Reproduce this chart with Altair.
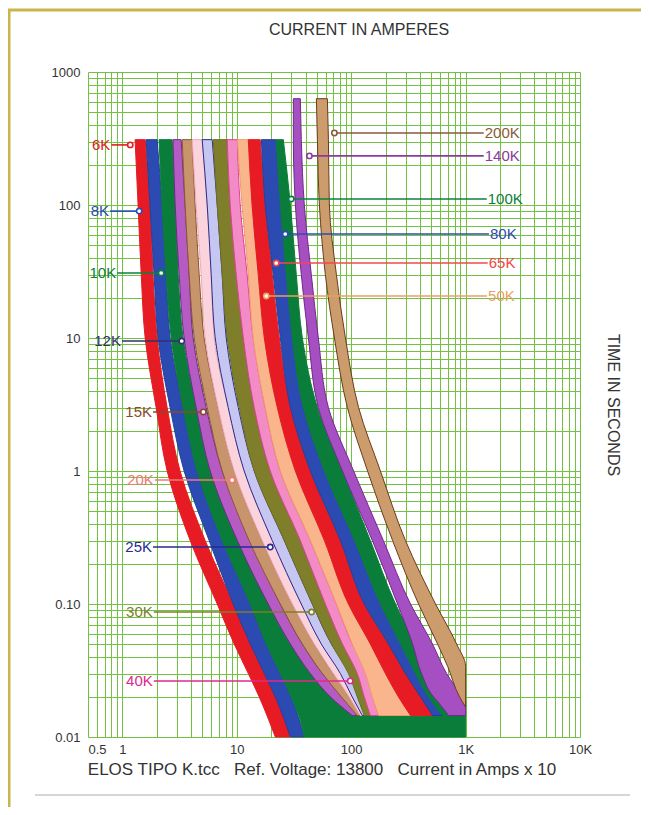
import altair as alt
import pandas as pd

FONT = "Liberation Sans"
TXT = "#333333"

# ---------------- fuse bands: current (A x10) at each time (s) ----------------
T_STD = [310, 100, 30, 10, 3, 1, 0.3, 0.1, 0.05, 0.03, 0.02, 0.0145]
T_LOW = [310, 100, 30, 10, 3, 1, 0.3, 0.1, 0.05, 0.03, 0.02, 0.01]

K6_MIN = [1.29, 1.37, 1.46, 1.58, 1.97, 2.46, 3.91, 6.74, 9.49, 12.6, 15.7, 21.7]
K6_MAX = [1.58, 1.74, 1.85, 2.01, 2.46, 3.19, 5.29, 9.30, 13.1, 17.4, 21.7, 29.4]

K8_MIN = [1.61, 1.74, 1.89, 2.05, 2.61, 3.46, 5.73, 9.30, 13.1, 17.4, 21.7, 29.4]
K8_MAX = [2.01, 2.22, 2.41, 2.61, 3.39, 4.50, 7.45, 13.1, 18.1, 24.0, 29.9, 38.9]

K10_T = [310, 100, 30, 10, 3, 1, 0.3, 0.1, 0.05, 0.03, 0.02, 0.0155, 0.0145, 0.01]
K10_MIN = [2.09, 2.22, 2.41, 2.67, 3.39, 4.50, 7.45, 13.1, 18.1, 24.0, 29.9, 33.8, 34.8, 38.9]
K10_MAX = [2.72, 2.89, 3.07, 3.39, 4.41, 5.85, 10.5, 18.8, 29.4, 45.7, 72.7, 94.5, 1000, 1000]

K12_MIN = [2.77, 2.89, 3.13, 3.46, 4.41, 5.85, 10.1, 18.8, 29.4, 43.9, 65.8, 102]
K12_MAX = [3.26, 3.53, 3.83, 4.15, 5.40, 7.45, 13.1, 24.0, 37.4, 56.0, 83.8, 116]

K15_MIN = [3.33, 3.53, 3.83, 4.24, 5.51, 7.45, 12.8, 24.0, 37.4, 56.0, 82.1, 113]
K15_MAX = [4.07, 4.32, 4.69, 5.18, 6.87, 9.49, 16.7, 30.6, 47.6, 69.9, 98.4, 128]

K20_MIN = [4.07, 4.41, 4.88, 5.29, 6.87, 9.49, 16.7, 30.6, 47.6, 69.9, 96.4, 120]
K20_MAX = [4.98, 5.51, 5.97, 6.34, 8.41, 11.6, 20.4, 36.6, 56.0, 82.1, 109, 136]

K25_MIN = [4.98, 5.51, 5.97, 6.47, 8.41, 11.6, 20.4, 36.6, 54.8, 80.4, 102, 125]
K25_MAX = [6.09, 6.74, 7.45, 8.08, 10.3, 14.2, 26.0, 45.7, 67.1, 98.4, 120, 147]

K30_MIN = [6.21, 6.74, 7.45, 8.24, 10.5, 14.2, 26.0, 45.7, 67.1, 94.5, 113, 130]
K30_MAX = [8.24, 8.75, 10.1, 11.4, 14.2, 19.6, 35.9, 59.4, 83.8, 116, 136, 153]

K40_MIN = [8.24, 8.75, 9.88, 11.4, 14.2, 19.6, 35.9, 59.4, 83.8, 113, 130, 147]
K40_MAX = [10.1, 10.7, 12.3, 13.9, 17.7, 24.0, 43.9, 74.2, 102, 139, 156, 173]

K50_MIN = [10.1, 11.1, 12.6, 13.9, 17.7, 24.0, 43.9, 74.2, 102, 133, 153, 173]
K50_MAX = [12.6, 13.6, 15.4, 17.4, 22.6, 32.5, 58.3, 98.4, 153, 230, 330, 474]

K65_MIN = [12.6, 13.6, 15.4, 17.4, 22.6, 32.5, 58.3, 94.5, 147, 199, 259, 330]
K65_MAX = [16.0, 17.7, 20.4, 23.5, 29.4, 43.9, 80.4, 130, 212, 317, 446, 629]

K80_MIN = [16.4, 17.7, 20.8, 24.0, 29.4, 43.9, 80.4, 130, 212, 298, 404, 514]
K80_MAX = [22.1, 24.0, 27.6, 31.2, 38.1, 58.3, 107, 180, 281, 404, 569, 769]

K100_MIN = [22.1, 24.0, 27.1, 30.6, 38.1, 58.3, 107, 180, 270, 365, 474, 629]
K100_MAX = [25.5, 29.4, 33.1, 37.4, 50.6, 83.8, 147, 244, 365, 494, 668, 941]

K140_T = [630, 310, 100, 30, 10, 3, 1, 0.3, 0.1, 0.05, 0.03, 0.02, 0.0185, 0.0145]
K140_MIN = [31.2, 31.2, 32.5, 36.6, 42.2, 51.6, 83.8, 153, 254, 344, 412, 525, 569, 710]
K140_MAX = [35.9, 36.6, 38.9, 44.8, 51.6, 63.2, 105, 191, 330, 514, 682, 941, 1000, 1000]

K200_T = [630, 310, 100, 30, 10, 3, 1, 0.3, 0.1, 0.05, 0.034, 0.02, 0.0168]
K200_MIN = [49.6, 50.6, 52.7, 59.4, 71.3, 92.6, 139, 230, 388, 569, 696, 886, 1000]
K200_MAX = [61.9, 63.2, 64.4, 74.2, 89.0, 116, 180, 298, 546, 834, 1000, 1000, 1000]

BANDS = [
    ("6K", T_LOW, K6_MIN, K6_MAX, "#e61b23", "#e61b23"),
    ("8K", T_LOW, K8_MIN, K8_MAX, "#2b4bb3", "#24409c"),
    ("10K", K10_T, K10_MIN, K10_MAX, "#0a7d3b", "#0a7d3b"),
    ("12K", T_STD, K12_MIN, K12_MAX, "#b65ac4", "#6b2c86"),
    ("15K", T_STD, K15_MIN, K15_MAX, "#c8946c", "#8a5634"),
    ("20K", T_STD, K20_MIN, K20_MAX, "#fbd3dc", "#f3a9bd"),
    ("25K", T_STD, K25_MIN, K25_MAX, "#c6c6f2", "#2b2b86"),
    ("30K", T_STD, K30_MIN, K30_MAX, "#7f7f2b", "#6e6e22"),
    ("40K", T_STD, K40_MIN, K40_MAX, "#f38cc6", "#e0409a"),
    ("50K", T_STD, K50_MIN, K50_MAX, "#f9b58c", "#f09a68"),
    ("65K", T_STD, K65_MIN, K65_MAX, "#e61b23", "#e61b23"),
    ("80K", T_STD, K80_MIN, K80_MAX, "#2b4bb3", "#24409c"),
    ("100K", T_STD, K100_MIN, K100_MAX, "#0a7d3b", "#0a7d3b"),
    ("140K", K140_T, K140_MIN, K140_MAX, "#a64fc2", "#6f2a8c"),
    ("200K", K200_T, K200_MIN, K200_MAX, "#cd9c6c", "#6a3b1c"),
]

# ---------------- labels with leader lines ----------------
LEFT_NAMES = ["6K", "8K", "10K", "12K", "15K", "20K", "25K", "30K", "40K"]
LEFT_T = [283, 90, 30.8, 9.49, 2.78, 0.855, 0.268, 0.0871, 0.0264]
LEFT_X0 = [0.80, 0.78, 0.90, 0.99, 1.85, 1.92, 1.85, 1.88, 1.88]
LEFT_X1 = [1.17, 1.40, 2.18, 3.30, 5.10, 9.10, 19.6, 45.0, 98.0]
LEFT_COLORS = ["#e61b23", "#2b4bb3", "#0a8040", "#35306e", "#8a4a2a",
               "#f07878", "#2a2a90", "#7e7e2c", "#e0288c"]

RIGHT_NAMES = ["200K", "140K", "100K", "80K", "65K", "50K"]
RIGHT_T = [348, 234, 111, 60.5, 36.6, 20.7]
RIGHT_X0 = [71.3, 43.1, 29.9, 26.5, 22.1, 18.1]
RIGHT_X1 = [1440, 1440, 1530, 1600, 1560, 1540]
RIGHT_COLORS = ["#8a5a3a", "#8a3aa0", "#0a8040", "#2b4bb3", "#f04848", "#e8a060"]

# ---------------- axes ----------------
X_LABEL_VALUES = [0.5, 1, 10, 100, 1000, 10000]
X_LABEL_TEXT = ["0.5", "1", "10", "100", "1K", "10K"]
Y_LABEL_VALUES = [0.01, 0.1, 1, 10, 100, 1000]
Y_LABEL_TEXT = ["0.01", "0.10", "1", "10", "100", "1000"]

X_GRID = [0.5, 0.6, 0.7, 0.8, 0.9] + [round(k * 10 ** e, 6) for e in range(0, 4) for k in range(1, 10)] + [10000]
Y_GRID = [round(k * 10.0 ** e, 6) for e in range(-2, 3) for k in range(1, 10)] + [1000]

TITLE_TOP = "CURRENT IN AMPERES"
TITLE_RIGHT = "TIME IN SECONDS"
TITLE_BOTTOM = "ELOS TIPO K.tcc\u00a0\u00a0\u00a0Ref. Voltage: 13800\u00a0\u00a0\u00a0Current in Amps x 10"


def label_expr(values, texts):
    return " : ".join(f"datum.value == {v} ? '{t}'" for v, t in zip(values, texts)) + " : ''"


GRID_COLOR = "#72c142"
x_scale = alt.Scale(type="log", domain=[0.5, 10000], nice=False)
y_scale = alt.Scale(type="log", domain=[0.01, 1000], nice=False)

X_AXIS = alt.Axis(
    values=X_GRID, labelExpr=label_expr(X_LABEL_VALUES, X_LABEL_TEXT),
    grid=True, gridColor=GRID_COLOR, gridWidth=1, gridOpacity=1,
    ticks=False, domain=False, labelOverlap=False, labelFlush=False,
    labelAlign={"condition": {"test": "datum.value == 0.5", "value": "left"}, "value": "center"},
    labelFont=FONT, labelFontSize=13, labelColor=TXT, labelPadding=6, title=None)
Y_AXIS = alt.Axis(
    values=Y_GRID, labelExpr=label_expr(Y_LABEL_VALUES, Y_LABEL_TEXT),
    grid=True, gridColor=GRID_COLOR, gridWidth=1, gridOpacity=1,
    ticks=False, domain=False, labelOverlap=False, labelFlush=False,
    labelFont=FONT, labelFontSize=13, labelColor=TXT, labelPadding=8, title=None)


def X(field):
    return alt.X(field, scale=x_scale, axis=X_AXIS)


def Y(field):
    return alt.Y(field, scale=y_scale, axis=Y_AXIS)


band_layers = []
for name, times, lo, hi, fill, stroke in BANDS:
    df = pd.DataFrame({"t": times, "lo": lo, "hi": hi})
    band_layers.append(
        alt.Chart(df).mark_area(orient="horizontal", color=fill, stroke=stroke,
                                strokeWidth=1, opacity=1, interpolate="monotone").encode(
            y=Y("t:Q"), x=X("lo:Q"), x2="hi:Q",
        )
    )

left_df = pd.DataFrame({"name": LEFT_NAMES, "t": LEFT_T, "x0": LEFT_X0, "x1": LEFT_X1,
                        "c": LEFT_COLORS})
right_df = pd.DataFrame({"name": RIGHT_NAMES, "t": RIGHT_T, "x0": RIGHT_X0, "x1": RIGHT_X1,
                         "c": RIGHT_COLORS})
all_df = pd.concat([left_df.assign(m=left_df["x1"]), right_df.assign(m=right_df["x0"])])

leader = alt.Chart(all_df).mark_rule(strokeWidth=1.6).encode(
    x=X("x0:Q"), x2="x1:Q", y=Y("t:Q"),
    color=alt.Color("c:N", scale=None),
)
marker = alt.Chart(all_df).mark_point(shape="circle", filled=True, fill="white", size=28,
                                      strokeWidth=1.6, opacity=1).encode(
    x=X("m:Q"), y=Y("t:Q"),
    stroke=alt.Color("c:N", scale=None),
)
text_left = alt.Chart(left_df).mark_text(align="right", baseline="middle", dx=-1,
                                         font=FONT, fontSize=15).encode(
    x=X("x0:Q"), y=Y("t:Q"), text="name:N",
    color=alt.Color("c:N", scale=None),
)
text_right = alt.Chart(right_df).mark_text(align="left", baseline="middle", dx=1,
                                           font=FONT, fontSize=15).encode(
    x=X("x1:Q"), y=Y("t:Q"), text="name:N",
    color=alt.Color("c:N", scale=None),
)

# titles and page furniture (positions relative to the plot area)
dummy = pd.DataFrame({"a": [0]})
title_top = alt.Chart(dummy).mark_text(font=FONT, fontSize=16, color=TXT, align="center",
                                       baseline="middle", text=TITLE_TOP).encode(
    x=alt.value(271), y=alt.value(-42))
title_right = alt.Chart(dummy).mark_text(font=FONT, fontSize=16, color=TXT, align="center",
                                         baseline="middle", angle=90, text=TITLE_RIGHT).encode(
    x=alt.value(525), y=alt.value(333))
title_bottom = alt.Chart(dummy).mark_text(font=FONT, fontSize=17, color=TXT, align="center",
                                          baseline="middle", text=TITLE_BOTTOM).encode(
    x=alt.value(234), y=alt.value(698))
frame_top = alt.Chart(dummy).mark_rule(color="#c9b54a", strokeWidth=3).encode(
    x=alt.value(-80), x2=alt.value(553), y=alt.value(-62))
frame_left = alt.Chart(dummy).mark_rule(color="#c9b54a", strokeWidth=3).encode(
    x=alt.value(-79), y=alt.value(-62), y2=alt.value(735))
bottom_line = alt.Chart(dummy).mark_rule(color="#d6d6d6", strokeWidth=2).encode(
    x=alt.value(-53), x2=alt.value(542), y=alt.value(723))

chart = alt.layer(
    *band_layers, leader, marker, text_left, text_right,
    title_top, title_right, title_bottom, frame_top, frame_left, bottom_line,
).properties(
    width=492, height=665,
    padding={"left": 80, "top": 64, "right": 61, "bottom": 70},
    autosize=alt.AutoSizeParams(type="none"),
    background="white",
).configure_view(stroke=None)

chart.save("out.html", embed_options={"renderer": "svg", "actions": False})
